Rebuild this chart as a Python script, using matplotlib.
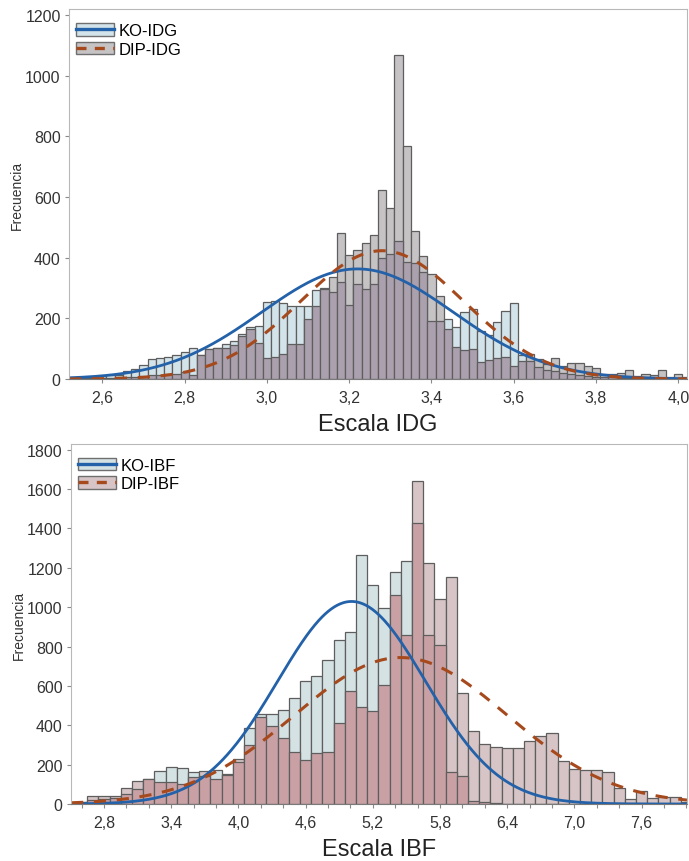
import numpy as np
import matplotlib

matplotlib.use("Agg")
import matplotlib.pyplot as plt
from matplotlib.patches import Patch
from matplotlib.lines import Line2D
from matplotlib.ticker import FixedLocator, FuncFormatter

plt.rcParams["font.family"] = ["Liberation Sans", "DejaVu Sans"]

# --- top panel: Escala IDG (bins 0.02 wide) ---
idg_centers = np.round(np.arange(2.54, 4.021, 0.02), 2)
ko_idg = [3, 4, 6, 10, 12, 14, 27, 33, 46, 66, 69, 74, 79, 88, 101, 80, 99, 101,
          115, 126, 148, 172, 176, 253, 258, 250, 242, 242, 242, 295, 300, 286,
          321, 244, 313, 297, 313, 400, 412, 456, 387, 382, 352, 192, 192, 198,
          170, 220, 231, 159, 145, 189, 225, 249, 79, 60, 40, 30, 25, 20, 15, 12,
          10, 8, 6, 5, 4, 3, 3, 2, 2, 2, 1, 1, 1]
dip_idg = [2, 2, 3, 3, 4, 5, 6, 8, 10, 12, 14, 15, 18, 22, 12, 79, 99, 101,
           101, 112, 141, 165, 118, 68, 71, 82, 115, 115, 198, 242, 297, 335,
           480, 409, 425, 450, 475, 623, 563, 1069, 767, 489, 407, 346, 273, 165,
           104, 97, 99, 55, 63, 68, 74, 44, 60, 82, 66, 49, 68, 44, 53, 53,
           42, 36, 16, 16, 20, 31, 11, 18, 13, 31, 5, 16, 5]
# fitted normal curves (mean, sd, peak height)
ko_idg_fit = (3.22, 0.233, 363)
dip_idg_fit = (3.28, 0.198, 423)
idg_ticks = [2.6, 2.8, 3.0, 3.2, 3.4, 3.6, 3.8, 4.0]

# --- bottom panel: Escala IBF (bins 0.1 wide) ---
ibf_centers = np.round(np.arange(2.6, 8.001, 0.1), 1)
ko_ibf = [10, 20, 25, 30, 51, 76, 125, 169, 190, 181, 161, 144, 175, 152, 212,
          384, 457, 457, 479, 536, 623, 651, 731, 832, 875, 1264, 1113, 995,
          1179, 1235, 1430, 858, 809, 161, 140, 15, 8, 4, 2, 1, 0, 0, 0, 0, 0,
          0, 0, 0, 0, 0, 0, 0, 0, 0, 0]
dip_ibf = [12, 42, 42, 42, 80, 118, 127, 110, 110, 102, 135, 169, 125, 145, 228,
           300, 440, 394, 333, 266, 223, 259, 266, 411, 575, 491, 474, 604,
           1061, 858, 1641, 1222, 1041, 1151, 563, 369, 303, 291, 283, 283, 318,
           347, 360, 218, 178, 174, 174, 161, 80, 24, 66, 29, 34, 37, 12]
ko_ibf_fit = (5.01, 0.66, 1029)
dip_ibf_fit = (5.45, 0.95, 744)
ibf_ticks = [2.8, 3.4, 4.0, 4.6, 5.2, 5.8, 6.4, 7.0, 7.6]
ibf_minor = np.round(np.arange(2.6, 8.01, 0.2), 1)

EDGE = "#5e5e5e"
BLUE = "#2361a9"
BROWN = "#a64a1d"


def comma(v, _pos):
    return f"{v:.1f}".replace(".", ",")


def draw_panel(ax, centers, ko, dip, bw, ko_fit, dip_fit, colors, labels,
               xlim, ylim, yticks, xlabel):
    ko = np.asarray(ko, float)
    dip = np.asarray(dip, float)
    c_ko, c_dip, c_both = colors
    hi = np.maximum(ko, dip)
    lo = np.minimum(ko, dip)
    hi_col = np.where(ko > dip, c_ko, c_dip)
    ax.bar(centers, hi, width=bw, color=hi_col, edgecolor=EDGE, linewidth=0.9)
    ax.bar(centers, lo, width=bw, color=c_both, edgecolor=EDGE, linewidth=0.9)

    xs = np.linspace(xlim[0], xlim[1], 600)
    for (mu, sd, pk), kw in ((ko_fit, dict(color=BLUE, lw=2.0)),
                             (dip_fit, dict(color=BROWN, lw=2.2, ls=(0, (4, 3.5))))):
        ax.plot(xs, pk * np.exp(-(xs - mu) ** 2 / (2 * sd ** 2)), **kw)

    ax.set_xlim(*xlim)
    ax.set_ylim(*ylim)
    ax.set_yticks(yticks)
    ax.xaxis.set_major_formatter(FuncFormatter(comma))
    for side in ("top", "right", "left"):
        ax.spines[side].set_color("#b8b8b8")
    ax.spines["bottom"].set_color("#7a7a7a")
    ax.tick_params(axis="both", labelsize=11.5, colors="#333333", length=3,
                   width=0.8, direction="out", pad=3)
    ax.tick_params(axis="x", pad=5)
    ax.tick_params(axis="both", which="both", color="#8a8a8a")
    ax.set_ylabel("Frecuencia", fontsize=10, color="#333333", labelpad=1)
    ax.set_xlabel(xlabel, fontsize=17, color="#222222", labelpad=6)

    handles = [
        (Patch(facecolor=c_ko, edgecolor="#6f6f6f", linewidth=1.0),
         Line2D([], [], color=BLUE, lw=2.4)),
        (Patch(facecolor=c_dip, edgecolor="#6f6f6f", linewidth=1.0),
         Line2D([], [], color=BROWN, lw=2.4, ls=(0, (3, 2.5)))),
    ]
    ax.legend(handles, labels, loc="upper left", bbox_to_anchor=(0.011, 0.962),
              frameon=False, fontsize=12, handlelength=2.3, handleheight=0.8,
              handletextpad=0.25, labelspacing=0.2, borderpad=0,
              borderaxespad=0)


fig = plt.figure(figsize=(6.89, 8.62), dpi=100)
ax_top = fig.add_axes([69 / 689, 1 - 380 / 862, 618 / 689, 370 / 862])
ax_bot = fig.add_axes([71 / 689, 1 - 805 / 862, 616 / 689, 360 / 862])

draw_panel(ax_top, idg_centers, ko_idg, dip_idg, 0.02, ko_idg_fit, dip_idg_fit,
           ("#d3e3ea", "#c6c3c5", "#aba0ae"), ["KO-IDG", "DIP-IDG"],
           (2.519, 4.021), (0, 1220), range(0, 1201, 200), "Escala IDG")
ax_top.set_xticks(idg_ticks)

draw_panel(ax_bot, ibf_centers, ko_ibf, dip_ibf, 0.1, ko_ibf_fit, dip_ibf_fit,
           ("#d4e2e4", "#d6c4c6", "#c9a1a5"), ["KO-IBF", "DIP-IBF"],
           (2.505, 8.005), (0, 1829), range(0, 1801, 200), "Escala IBF")
ax_bot.set_xticks(ibf_ticks)
ax_bot.xaxis.set_minor_locator(FixedLocator(ibf_minor))
ax_bot.tick_params(axis="x", which="minor", length=3, width=0.8)

fig.savefig("out.png", dpi=100)
plt.close(fig)
